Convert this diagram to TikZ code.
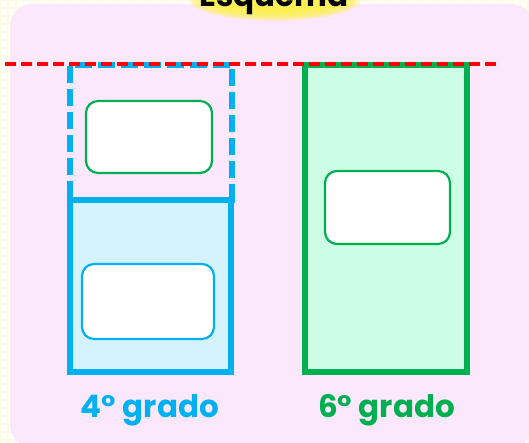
\documentclass[tikz,border=0pt]{standalone}
\usepackage{fontspec}
\newfontfamily\labfont{Poppins}
\definecolor{bgpink}{HTML}{FCE8FC}
\definecolor{gridy}{HTML}{FCFCE0}
\definecolor{cblue}{HTML}{00B0F0}
\definecolor{lblue}{HTML}{D5F3FF}
\definecolor{cgreen}{HTML}{00B050}
\definecolor{lgreen}{HTML}{CDFDE4}
\definecolor{cred}{HTML}{FF0000}
\definecolor{glow}{HTML}{FFF250}
\tikzset{
  bigbox/.style={line width=6pt, inner sep=0pt, rectangle},
  card/.style={fill=white, line width=2.2pt, rounded corners=12pt, inner sep=0pt, rectangle},
  lbl/.style={font=\labfont\bfseries\fontsize{31}{31}\selectfont, inner sep=0pt, anchor=base},
}
\begin{document}
\begin{tikzpicture}[x=1pt,y=-1pt]
\useasboundingbox (0,0) rectangle (529,443);
% background grid
\fill[white] (0,0) rectangle (529,443);
\draw[gridy, line width=2pt, step=8pt] (0,0) grid (529,443);
% pink panel
\fill[bgpink, rounded corners=22pt] (10,4) rectangle (533,447);
% title glow
\foreach \i in {1,...,10} {
  \fill[glow, opacity=0.28] (275,0) ellipse ({88-2.6*\i} and {22-1.2*\i});
}
\node[font=\labfont\bfseries\fontsize{31}{31}\selectfont, anchor=base, inner sep=0pt] (title) at (274,7) {Esquema};
% left column
\node[bigbox, draw=cblue, dash pattern=on 17pt off 6pt, minimum width=162pt, minimum height=135pt] (topbox) at (151,132.5) {};
\node[bigbox, draw=cblue, fill=lblue, minimum width=161pt, minimum height=172pt] (botbox) at (150.5,286) {};
\node[card, draw=cgreen, minimum width=126pt, minimum height=72pt] (cardA) at (149,137) {};
\node[card, draw=cblue, minimum width=132pt, minimum height=75pt] (cardB) at (148,301.5) {};
% right column
\node[bigbox, draw=cgreen, fill=lgreen, minimum width=162pt, minimum height=307pt] (rbox) at (386,218.5) {};
\node[card, draw=cgreen, minimum width=125pt, minimum height=73pt] (cardC) at (387.5,207.5) {};
% red dashed reference line
\coordinate (rl) at (5,64.5);
\coordinate (rr) at (500,64.5);
\draw[cred, line width=4pt, dash pattern=on 11pt off 5pt] (rl) -- (rr);
% labels
\node[lbl, text=cblue] (l4) at (150,417) {4° grado};
\node[lbl, text=cgreen] (l6) at (386.5,417) {6° grado};
\end{tikzpicture}
\end{document}
